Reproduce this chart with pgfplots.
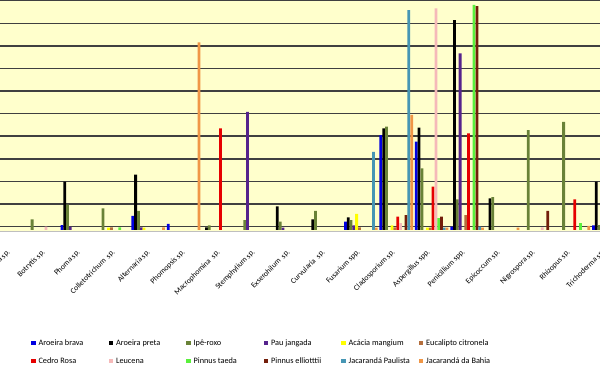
\documentclass[border=0pt]{standalone}
\usepackage{fontspec}
\setmainfont{Carlito}
\usepackage{pgfplots}
\pgfplotsset{compat=1.18}
\definecolor{bgY}{RGB}{255,255,204}
\definecolor{cAB}{RGB}{0,0,225}
\definecolor{cAP}{RGB}{0,0,0}
\definecolor{cIR}{RGB}{105,130,55}
\definecolor{cPJ}{RGB}{85,35,140}
\definecolor{cAM}{RGB}{255,255,0}
\definecolor{cEC}{RGB}{180,110,60}
\definecolor{cCR}{RGB}{230,0,0}
\definecolor{cLE}{RGB}{245,185,185}
\definecolor{cPT}{RGB}{90,240,60}
\definecolor{cPE}{RGB}{115,30,10}
\definecolor{cJP}{RGB}{70,150,180}
\definecolor{cJB}{RGB}{240,150,70}
\begin{document}
\begin{tikzpicture}
\begin{axis}[
  scale only axis, width=463.28pt, height=173.6pt,
  xmin=-0.183, xmax=17.25, ymin=-0.066, ymax=10.18,
  axis background/.style={fill=bgY},
  axis line style={draw=none},
  ytick={0.15,1.15,2.15,3.15,4.15,5.15,6.15,7.15,8.15,9.15,10.15},
  yticklabels={}, ytick style={draw=none},
  ymajorgrids, major grid style={draw=black!75, line width=1.1pt},
  xtick={0,...,17}, xtick style={draw=none},
  xticklabels={Pestalotia sp.,Botrytis sp.,Phoma sp.,Colletotrichum\ \ sp.,Alternaria sp.,Phomopsis sp.,Macrophomina\ \ sp.,Stemphylium sp.,Exserohilum\ \ sp.,Curvularia\ \ sp.,Fusarium spp.,Cladosporium sp.,Aspergillus spp.,Penicillium spp.,Epicoccum sp.,Nigrospora sp.,Rhizopus sp.,Trichoderma sp.},
  xticklabel style={xshift={-0.33pt*\ticknum}, yshift=-8.5pt, rotate=45, anchor=north east, inner sep=0pt, font=\fontsize{5.8}{6.5}\selectfont},
  ybar, bar width=0.078,
  legend image code/.code={\fill[#1] (0pt,-1.6pt) rectangle (3.2pt,1.6pt);},
  legend columns=6, legend cell align=left,
  legend style={draw=none, fill=none, inner sep=0pt, at={(axis description cs:0,1)}, anchor=north west, xshift=23.25pt, yshift=-254.25pt,
    font=\fontsize{6.2}{7}\selectfont, row sep=7.5pt,
    nodes={inner sep=0pt, text height=4.5pt, text depth=1.5pt},
    /tikz/every odd column/.style={column sep=2.25pt},
    /tikz/every even column/.style={column sep=0pt}},
]
\addplot[fill=cAB, draw=none, bar shift=-0.4345] coordinates {(2,0.22) (4,0.62) (5,0.27) (10,0.37) (11,4.2) (12,3.91) (13,0.15) (17,0.2)};
\addlegendentry{\makebox[52.7pt][l]{Aroeira brava}}
\addplot[fill=cAP, draw=none, bar shift=-0.3555] coordinates {(2,2.14) (4,2.45) (6,0.12) (8,1.05) (9,0.47) (10,0.56) (11,4.5) (12,4.53) (13,9.29) (14,1.4) (17,2.14)};
\addlegendentry{\makebox[52.7pt][l]{Aroeira preta}}
\addplot[fill=cIR, draw=none, bar shift=-0.2765] coordinates {(0,1.1) (1,0.47) (2,1.12) (3,0.96) (4,0.85) (6,0.2) (7,0.44) (8,0.37) (9,0.85) (10,0.44) (11,4.57) (12,2.73) (13,1.36) (14,1.45) (15,4.42) (16,4.79) (17,0.22)};
\addlegendentry{\makebox[52.7pt][l]{Ipê-roxo}}
\addplot[fill=cPJ, draw=none, bar shift=-0.1975] coordinates {(2,0.15) (4,0.12) (7,5.23) (8,0.1) (10,0.2) (13,7.82)};
\addlegendentry{\makebox[52.7pt][l]{Pau jangada}}
\addplot[fill=cAM, draw=none, bar shift=-0.1185] coordinates {(3,0.1) (4,0.1) (10,0.71) (11,0.2) (12,0.1)};
\addlegendentry{\makebox[52.7pt][l]{Acácia mangium}}
\addplot[fill=cEC, draw=none, bar shift=-0.0395] coordinates {(3,0.12) (10,0.12) (11,0.12) (12,0.1) (13,0.66)};
\addlegendentry{\makebox[52.7pt][l]{Eucalipto citronela}}
\addplot[fill=cCR, draw=none, bar shift=0.0395] coordinates {(6,4.5) (11,0.59) (12,1.92) (13,4.28) (16,1.36)};
\addlegendentry{\makebox[52.7pt][l]{Cedro Rosa}}
\addplot[fill=cLE, draw=none, bar shift=0.1185] coordinates {(1,0.15) (11,0.3) (12,9.81) (15,0.12)};
\addlegendentry{\makebox[52.7pt][l]{Leucena}}
\addplot[fill=cPT, draw=none, bar shift=0.1975] coordinates {(3,0.12) (12,0.52) (13,9.96) (16,0.3)};
\addlegendentry{\makebox[52.7pt][l]{Pinnus taeda}}
\addplot[fill=cPE, draw=none, bar shift=0.2765] coordinates {(11,0.66) (12,0.59) (13,9.91) (15,0.85)};
\addlegendentry{\makebox[52.7pt][l]{Pinnus elliotttii}}
\addplot[fill=cJP, draw=none, bar shift=0.3555] coordinates {(10,3.46) (11,9.73) (12,0.1) (13,0.15)};
\addlegendentry{\makebox[52.7pt][l]{Jacarandá Paulista}}
\addplot[fill=cJB, draw=none, bar shift=0.4345] coordinates {(4,0.12) (5,8.3) (10,0.1) (11,5.09) (12,0.1) (13,0.1) (14,0.1) (16,0.18)};
\addlegendentry{\makebox[52.7pt][l]{Jacarandá da Bahia}}
\draw[black!25, line width=1.2pt] (rel axis cs:0,0) -- (rel axis cs:1,0);
\coordinate (NW) at (rel axis cs:0,1);
\end{axis}
\pgfresetboundingbox
\useasboundingbox (NW) rectangle ([xshift=450pt,yshift=-278.25pt]NW);
\end{tikzpicture}
\end{document}
